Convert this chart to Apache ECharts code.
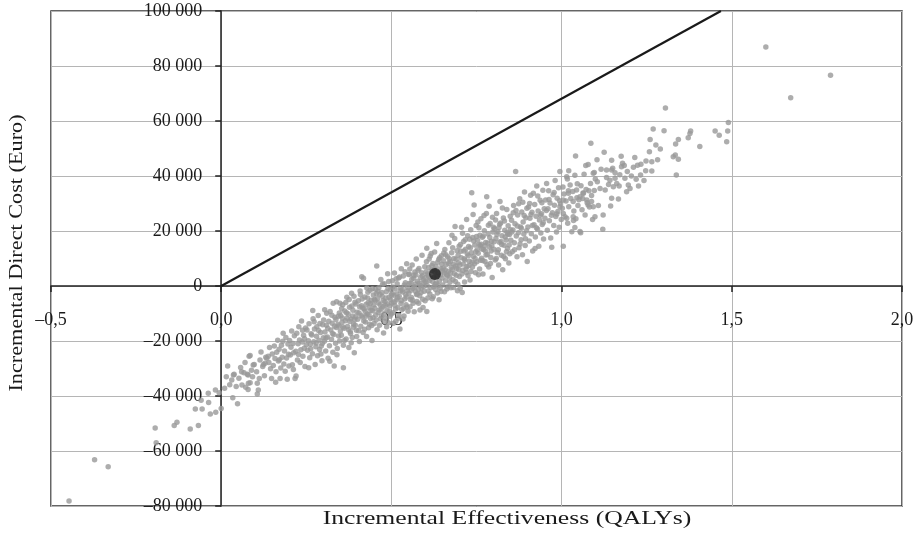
<!DOCTYPE html>
<html><head><meta charset="utf-8">
<script src="https://cdn.jsdelivr.net/npm/echarts@6/dist/echarts.min.js"></script>
<style>html,body{margin:0;padding:0;background:#fff}#c{width:916px;height:543px}</style>
</head><body><div id="c"></div>
<script>
const xTicks = [-0.5, 0, 0.5, 1.0, 1.5, 2.0];
const yTicks = [-80000, -60000, -40000, -20000, 0, 20000, 40000, 60000, 80000, 100000];
const xAxisTitle = 'Incremental Effectiveness (QALYs)';
const yAxisTitle = 'Incremental Direct Cost (Euro)';
const thresholdLine = [[0, 0], [1.468, 100000]];
const meanPoint = [[0.628, 4400]];
const tailPoints = [[-0.447,-78200],[-0.372,-63200],[-0.332,-65700],[-0.194,-51600],[-0.191,-57000],[-0.138,-50700],[-0.130,-49500],[-0.091,-52000],[-0.067,-50700],[-0.076,-44700],[-0.056,-44700],[-0.059,-41500],[-0.037,-42400],[-0.032,-46500],[-0.016,-45900],[0.000,-44500],[-0.038,-39000],[-0.017,-37800],[-0.006,-38800],[0.010,-37200],[0.034,-40600],[0.048,-42800],[0.019,-29100],[0.031,-34200],[0.038,-32100],[0.061,-36000],[0.067,-31500],[0.079,-32400],[0.085,-35200],[0.079,-37600],[0.036,-32400],[0.060,-31200],[0.077,-32100],[0.080,-35400],[0.082,-25500],[0.052,-33500],[0.070,-27800],[0.089,-30600],[0.092,-33000],[0.072,-36800],[0.057,-29600],[0.044,-36500],[0.025,-35900],[0.015,-33000]];
const bandPointsA = [[0.085,-25300],[0.094,-28700],[0.097,-28500],[0.104,-31200],[0.106,-35400],[0.109,-37800],[0.106,-39300],[0.112,-33600],[0.114,-26900],[0.122,-29300],[0.124,-28500],[0.129,-28100],[0.134,-26300],[0.131,-25900],[0.138,-25500],[0.148,-33600],[0.142,-22400],[0.145,-30100],[0.117,-24000],[0.127,-32600],[0.140,-27800],[0.150,-24700],
[0.153,-28900],[0.156,-21800],[0.158,-26400],[0.161,-31200],[0.163,-24100],[0.166,-19700],[0.168,-27300],[0.170,-23000],[0.173,-33600],[0.175,-29800],[0.177,-21500],[0.179,-25900],[0.182,-17200],[0.184,-28400],[0.186,-23600],[0.188,-31000],[0.190,-18700],[0.192,-26200],[0.194,-33900],[0.196,-21100],[0.198,-24800],[0.160,-35000],[0.181,-20100],[0.171,-26800],[0.199,-29100],
[0.201,-19800],[0.203,-25100],[0.205,-22300],[0.207,-16400],[0.209,-28600],[0.211,-20900],[0.213,-24300],[0.215,-18100],[0.217,-33600],[0.219,-23700],[0.220,-32700],[0.222,-17200],[0.224,-26900],[0.226,-21000],[0.228,-14800],[0.230,-19600],[0.232,-27800],[0.234,-23200],[0.236,-12700],[0.238,-20400],[0.240,-25500],[0.242,-17900],[0.244,-22600],[0.246,-29300],[0.248,-15300],[0.250,-21400],[0.212,-30400],[0.227,-24900],[0.239,-16100],[0.245,-19200],
[0.252,-16000],[0.254,-23400],[0.256,-19900],[0.258,-13700],[0.260,-26100],[0.262,-21200],[0.264,-17400],[0.266,-17800],[0.268,-24600],[0.270,-11900],[0.272,-20300],[0.274,-15600],[0.276,-28500],[0.278,-22100],[0.280,-18300],[0.281,-14800],[0.283,-25400],[0.285,-10700],[0.287,-19700],[0.289,-23100],[0.290,-13600],[0.292,-16900],[0.294,-21800],[0.296,-27200],[0.298,-14100],[0.300,-18800],[0.257,-29700],[0.269,-8900],[0.279,-20700],[0.286,-16200],[0.293,-24700],[0.263,-22800],[0.273,-13000],[0.297,-20900],
[0.301,-12400],[0.303,-20100],[0.305,-16700],[0.307,-23600],[0.309,-14300],[0.310,-9900],[0.312,-18500],[0.314,-26300],[0.316,-12800],[0.318,-21700],[0.320,-9300],[0.322,-16000],[0.324,-19400],[0.326,-13500],[0.328,-24100],[0.329,-6300],[0.331,-17600],[0.332,-29100],[0.334,-11400],[0.336,-20800],[0.338,-15100],[0.339,-5700],[0.341,-22700],[0.343,-13900],[0.345,-18200],[0.347,-9800],[0.349,-6300],[0.350,-16400],[0.304,-8600],[0.313,-15400],[0.319,-27400],[0.325,-10600],[0.333,-14600],[0.340,-25000],[0.344,-11000],[0.348,-20000],[0.308,-18900],[0.327,-17300],[0.337,-12200],[0.346,-14500]];
const bandPointsB = [[0.351,-10800],[0.353,-17900],[0.355,-13200],[0.357,-6800],[0.359,-21500],[0.359,-29700],[0.361,-15400],[0.363,-9100],[0.365,-12600],[0.367,-19300],[0.369,-4100],[0.371,-14700],[0.373,-10200],[0.375,-22400],[0.377,-7700],[0.379,-16600],[0.381,-12000],[0.383,-2600],[0.385,-18700],[0.387,-8800],[0.389,-13800],[0.391,-24300],[0.393,-5900],[0.395,-11300],[0.397,-16100],[0.399,-9500],[0.354,-8200],[0.358,-14900],[0.362,-19800],[0.366,-6000],[0.370,-11700],[0.374,-15900],[0.378,-12900],[0.382,-20600],[0.386,-10900],[0.390,-3700],[0.394,-14300],[0.398,-18400],[0.368,-9700],[0.376,-4900],[0.384,-7300],[0.392,-12300],[0.396,-6500],[0.356,-11600],[0.380,-17300],[0.388,-15000],
[0.401,-12100],[0.403,-5400],[0.405,-9800],[0.406,-20200],[0.408,-1800],[0.410,-14600],[0.412,-7200],[0.413,3400],[0.415,-11300],[0.417,-16900],[0.418,2800],[0.420,-8400],[0.422,-4000],[0.424,-13100],[0.426,-6600],[0.427,-18400],[0.429,-10200],[0.431,-2300],[0.433,-15200],[0.435,-7900],[0.437,-1500],[0.439,-11800],[0.441,-5200],[0.443,-19800],[0.445,-9000],[0.447,-3300],[0.449,-13600],[0.404,-16300],[0.407,-7600],[0.411,-10700],[0.414,-4700],[0.419,-12700],[0.423,-9300],[0.428,-700],[0.432,-6100],[0.436,-13900],[0.440,-8800],[0.444,-1000],[0.448,-6900],[0.409,-3100],[0.416,-8000],[0.421,-15700],[0.425,-11000],[0.430,-4400],[0.434,-10400],[0.438,-6400],[0.442,-14400],[0.446,-11500],[0.450,-4900],
[0.451,-8100],[0.453,-1200],[0.455,-12400],[0.457,7300],[0.459,-4600],[0.461,-9600],[0.463,-600],[0.465,-14300],[0.467,-6800],[0.469,2400],[0.471,-10900],[0.473,-3700],[0.475,-7500],[0.477,-17100],[0.479,800],[0.481,-5600],[0.483,-11700],[0.485,-2100],[0.487,-8900],[0.489,4500],[0.491,-13400],[0.493,-4100],[0.495,-7300],[0.497,-1400],[0.499,-10200],[0.452,-5300],[0.456,-2800],[0.458,-15900],[0.462,-6200],[0.466,-3100],[0.470,-8400],[0.474,600],[0.478,-10100],[0.482,-7100],[0.486,-14800],[0.490,-900],[0.494,-9300],[0.498,-5000],[0.454,-10500],[0.460,-1900],[0.464,-8700],[0.468,-11900],[0.472,-2400],[0.476,-5300],[0.480,-12900],[0.484,-4400],[0.488,-6500],[0.492,1600],[0.496,-11000],[0.500,-3300],
[0.501,-6200],[0.503,1900],[0.505,-9700],[0.507,-3400],[0.509,4700],[0.511,-1100],[0.513,-12800],[0.515,-5100],[0.517,800],[0.519,-7900],[0.521,2900],[0.523,-3800],[0.525,-15600],[0.527,-600],[0.529,6300],[0.531,-8600],[0.533,-2200],[0.535,3600],[0.537,-10900],[0.539,-4700],[0.541,1200],[0.543,-6800],[0.545,8100],[0.547,-1700],[0.549,-9200],[0.502,-2700],[0.506,-13500],[0.510,-7000],[0.514,2600],[0.518,-4300],[0.522,-10600],[0.526,-1800],[0.530,-5400],[0.534,-12000],[0.538,400],[0.542,-3100],[0.546,-7600],[0.550,4200],[0.504,-400],[0.508,-5800],[0.512,-8400],[0.516,-2900],[0.520,-11700],[0.524,3300],[0.528,-6400],[0.532,-1400],[0.536,-8100],[0.540,5200],[0.544,-4000],[0.548,-500]];
const bandPointsC = [[0.551,-2600],[0.553,4300],[0.555,-7500],[0.557,1000],[0.559,-4200],[0.561,7600],[0.563,-800],[0.565,2800],[0.567,-9400],[0.569,5100],[0.571,-2000],[0.573,9800],[0.575,-5600],[0.577,1700],[0.579,-1300],[0.581,6400],[0.583,-3500],[0.584,-8700],[0.586,3100],[0.588,-600],[0.590,11200],[0.592,-4800],[0.594,2200],[0.596,-1900],[0.598,7000],[0.552,900],[0.556,-4900],[0.560,2500],[0.564,-6300],[0.568,-300],[0.572,4000],[0.576,-2900],[0.580,-6300],[0.585,200],[0.589,4800],[0.593,-7800],[0.597,1400],[0.554,6200],[0.558,-1500],[0.562,-5200],[0.566,3900],[0.570,700],[0.574,-3100],[0.578,5700],[0.582,1000],[0.587,-2400],[0.591,3700],[0.595,-200],[0.599,-5400],[0.600,3000],
[0.601,1500],[0.603,8800],[0.604,-9300],[0.604,13700],[0.606,4400],[0.608,-1800],[0.610,6700],[0.612,2000],[0.614,10900],[0.616,-600],[0.618,5600],[0.620,-4600],[0.622,8200],[0.623,-3900],[0.625,3100],[0.627,12400],[0.629,600],[0.631,7100],[0.633,15500],[0.635,-2500],[0.637,4800],[0.639,9600],[0.641,1800],[0.643,-800],[0.645,6300],[0.647,11000],[0.649,2900],[0.602,5200],[0.607,-4400],[0.611,9800],[0.615,2800],[0.619,7400],[0.624,-300],[0.628,5000],[0.632,1100],[0.636,8600],[0.640,-5000],[0.644,4000],[0.648,7900],[0.605,200],[0.609,3600],[0.613,-2900],[0.617,11800],[0.621,1600],[0.626,6100],[0.630,-1300],[0.634,3400],[0.638,200],[0.642,10300],[0.646,-2000],[0.650,5500],
[0.651,400],[0.653,9200],[0.655,4700],[0.657,13300],[0.659,1900],[0.661,7800],[0.663,-1100],[0.665,10600],[0.667,5300],[0.669,15700],[0.671,3200],[0.673,8900],[0.675,-600],[0.677,12100],[0.679,6000],[0.681,2300],[0.682,-500],[0.684,10000],[0.686,17300],[0.687,21600],[0.689,7300],[0.691,3900],[0.693,12800],[0.695,600],[0.697,8500],[0.699,14500],[0.652,6500],[0.656,-2100],[0.660,11400],[0.664,3700],[0.668,8300],[0.672,1400],[0.676,6800],[0.680,13900],[0.685,4500],[0.690,9700],[0.694,-1700],[0.698,5900],[0.654,12000],[0.658,5900],[0.662,4200],[0.666,-300],[0.670,9900],[0.674,4800],[0.678,18500],[0.683,7900],[0.688,1600],[0.692,6400],[0.696,11200],[0.700,3500],
[0.701,7600],[0.702,-800],[0.703,15100],[0.705,10300],[0.707,4400],[0.709,19200],[0.711,8000],[0.713,12700],[0.715,1500],[0.717,16800],[0.719,6200],[0.721,24200],[0.723,11600],[0.725,3800],[0.727,14400],[0.729,9000],[0.731,2200],[0.733,20500],[0.735,12100],[0.736,33900],[0.738,6900],[0.739,17600],[0.741,10700],[0.743,29500],[0.745,14900],[0.747,4800],[0.749,22000],[0.704,12600],[0.708,-2400],[0.712,16200],[0.716,9500],[0.720,4900],[0.724,18300],[0.728,7500],[0.732,13900],[0.737,8600],[0.742,16400],[0.746,10000],[0.750,18000],[0.706,21400],[0.710,5700],[0.714,9900],[0.718,13400],[0.722,7100],[0.726,11000],[0.730,17000],[0.734,5300],[0.740,26000],[0.744,8100],[0.748,12500]];
const bandPointsD = [[0.751,8800],[0.753,16600],[0.755,11900],[0.757,21200],[0.759,6200],[0.761,14600],[0.763,24500],[0.765,10100],[0.767,17700],[0.769,4400],[0.771,13300],[0.773,20100],[0.775,8900],[0.777,15800],[0.779,26400],[0.780,32500],[0.782,11500],[0.784,18900],[0.786,6900],[0.788,14200],[0.790,22700],[0.792,10400],[0.794,16300],[0.796,3100],[0.798,19600],[0.752,13200],[0.756,4100],[0.760,18500],[0.764,15200],[0.768,9300],[0.772,25600],[0.776,12700],[0.781,7700],[0.785,22100],[0.789,17600],[0.793,12700],[0.797,25000],[0.754,23300],[0.758,15000],[0.762,9400],[0.766,13500],[0.770,18200],[0.774,14600],[0.778,11300],[0.783,15600],[0.787,29000],[0.791,8200],[0.795,14600],[0.800,21400],
[0.801,13400],[0.803,20800],[0.805,9500],[0.807,17300],[0.809,26400],[0.811,12200],[0.813,19700],[0.815,7600],[0.817,15900],[0.819,30700],[0.821,22900],[0.823,11200],[0.825,18300],[0.827,5900],[0.829,24700],[0.831,14800],[0.833,20300],[0.835,9900],[0.837,16700],[0.839,27800],[0.841,13600],[0.843,21900],[0.845,8400],[0.847,18700],[0.849,25400],[0.802,16100],[0.806,24000],[0.810,18700],[0.814,13200],[0.818,22500],[0.822,16200],[0.826,28400],[0.830,10700],[0.834,17800],[0.838,12500],[0.842,18800],[0.846,14900],[0.850,20500],[0.808,10000],[0.816,21300],[0.824,15100],[0.832,23600],[0.840,19500],[0.848,11700],
[0.851,16600],[0.853,23900],[0.855,12500],[0.857,20400],[0.859,29300],[0.861,15700],[0.863,22600],[0.865,41600],[0.867,18200],[0.869,10600],[0.871,25800],[0.873,19400],[0.875,13900],[0.877,31700],[0.879,21500],[0.881,16800],[0.883,26900],[0.885,11400],[0.887,23300],[0.889,18900],[0.891,34200],[0.893,14700],[0.895,24800],[0.897,20100],[0.899,8900],[0.854,19600],[0.858,26600],[0.862,13200],[0.866,27500],[0.870,21800],[0.874,29900],[0.878,15300],[0.882,21000],[0.886,30500],[0.890,25600],[0.894,17200],[0.898,28300],
[0.901,21500],[0.903,28700],[0.905,16400],[0.907,24600],[0.909,33000],[0.911,19000],[0.913,26800],[0.915,12700],[0.917,33700],[0.919,22300],[0.921,29600],[0.923,17800],[0.925,25400],[0.927,36400],[0.929,20700],[0.931,27300],[0.933,14500],[0.935,24000],[0.937,31200],[0.939,19300],[0.941,26300],[0.943,22400],[0.945,34800],[0.947,17100],[0.949,28100],[0.906,30000],[0.914,22000],[0.922,13600],[0.930,32700],[0.938,25700],[0.946,23000],[0.910,26000],[0.926,21200],[0.942,30300],
[0.951,24600],[0.953,31300],[0.956,37300],[0.958,20300],[0.960,28100],[0.962,34600],[0.964,23700],[0.966,30200],[0.968,17500],[0.971,14100],[0.973,26600],[0.975,33200],[0.977,22000],[0.979,29400],[0.981,38400],[0.983,25300],[0.985,19600],[0.987,31900],[0.989,27100],[0.991,35700],[0.993,21400],[0.995,41600],[0.997,29900],[0.999,24200],[0.955,27500],[0.963,31500],[0.970,25700],[0.978,34000],[0.986,26200],[0.994,31000]];
const bandPointsE = [[1.002,28300],[1.005,14500],[1.007,33500],[1.010,25200],[1.013,30900],[1.015,39700],[1.018,22800],[1.021,28800],[1.025,36700],[1.027,31800],[1.030,19700],[1.033,34400],[1.036,27300],[1.039,40300],[1.042,24500],[1.045,32100],[1.048,29300],[1.004,36000],[1.020,34600],[1.035,23800],[1.046,37200],
[1.017,38900],[1.020,33700],[1.044,34900],[1.054,32500],[1.074,31300],[1.064,33700],[1.034,30700],[1.005,31300],[1.088,30700],[1.093,28800],[1.078,29500],[1.034,25200],[1.015,24600],[1.005,26400],[0.995,28800],[1.098,25200],[1.056,19400],[1.039,21300],
[1.051,31400],[1.054,19800],[1.057,36500],[1.060,27700],[1.063,33800],[1.066,40600],[1.069,25800],[1.072,35100],[1.075,30300],[1.078,44200],[1.082,28700],[1.085,37300],[1.088,32900],[1.091,24200],[1.093,41000],[1.096,34700],[1.099,38900],[1.062,31800],[1.080,34600],
[1.086,51900],[1.041,47300],[1.071,43800],[1.096,41300],[1.021,41900],
[1.104,45900],[1.116,42500],[1.125,48600],[1.132,39500],[1.142,38500],[1.157,39200],[1.162,37300],[1.152,36100],[1.169,36400],[1.186,39200],[1.196,36700],[1.201,35500],[1.191,34300],[1.167,31600],[1.147,31900],[1.144,29100],[1.122,25800],[1.121,20600],[1.108,29300],[1.128,34900],[1.113,35500],[1.105,37900],[1.132,42200],[1.147,42200],[1.147,45700],[1.150,42800],[1.157,41200],[1.179,44600],[1.184,43800],[1.176,43400],[1.211,43200],[1.223,43900],[1.233,44300],[1.248,45500],[1.265,45200],[1.247,41900],[1.265,41800],[1.219,38800],[1.242,38400],[1.232,40400],[1.171,40500],[1.205,40000],[1.138,36900],[1.193,41600],[1.215,46700],[1.258,48800],[1.282,45900],[1.290,49800],[1.226,36400],[1.175,47200],
[1.260,53300],[1.277,51300],[1.269,57100],[1.301,56500],[1.305,64700],[1.337,40400],[1.328,47000],[1.343,46100],[1.334,47600],[1.335,51600],[1.343,53300],[1.372,53900],[1.377,55500],[1.379,56400],[1.406,50700],[1.451,56400],[1.463,54800],[1.485,52500],[1.488,56400],[1.490,59500],[1.600,86900],[1.673,68500],[1.790,76600]];
const bootstrapPoints = [].concat(tailPoints, bandPointsA, bandPointsB, bandPointsC, bandPointsD, bandPointsE);

const FONT = '"Liberation Serif", "DejaVu Serif", serif';
const TXT = '#1a1a1a';
const fmtX = v => v.toFixed(1).replace('.', ',').replace('-', '\u2013');
const fmtY = v => v === 0 ? '0' : (v < 0 ? '\u2013' : '') + String(Math.abs(v)).replace(/\B(?=(\d{3})+(?!\d))/g, ' ');

const W = 916, H = 543;
const G = {left: 51, right: 14, top: 11, bottom: 37};
const gridW = W - G.left - G.right, gridH = H - G.top - G.bottom;
const xMin = xTicks[0], xMax = xTicks[xTicks.length - 1];
const yMin = yTicks[0], yMax = yTicks[yTicks.length - 1];
// place the axes where the other axis is zero
const xAxisOffset = -gridH * (0 - yMin) / (yMax - yMin);
const yAxisOffset = -gridW * (0 - xMin) / (xMax - xMin);

const chart = echarts.init(document.getElementById('c'), null, {renderer: 'canvas'});
chart.setOption({
  animation: false,
  backgroundColor: '#fff',
  grid: Object.assign({show: true, borderColor: '#333', borderWidth: 1.5, backgroundColor: 'transparent', containLabel: false, outerBoundsMode: 'none'}, G),
  xAxis: {
    type: 'value', min: xMin, max: xMax, interval: 0.5, position: 'bottom', offset: xAxisOffset,
    axisLine: {onZero: false, lineStyle: {color: '#222', width: 1.5}},
    axisTick: {show: true, length: 6, lineStyle: {color: '#222', width: 1.5}},
    axisLabel: {margin: 25, color: TXT, fontFamily: FONT, fontSize: 18, formatter: fmtX, showMinLabel: true, showMaxLabel: true, hideOverlap: false},
    splitLine: {show: true, lineStyle: {color: '#b5b5b5', width: 1}}
  },
  yAxis: {
    type: 'value', min: yMin, max: yMax, interval: 20000, position: 'left', offset: yAxisOffset,
    axisLine: {onZero: false, lineStyle: {color: '#222', width: 1.5}},
    axisTick: {show: true, length: 6, lineStyle: {color: '#222', width: 1.5}},
    axisLabel: {margin: 19, color: TXT, fontFamily: FONT, fontSize: 18, formatter: fmtY, padding: [6, 0, 0, 0], showMinLabel: true, showMaxLabel: true, hideOverlap: false},
    splitLine: {show: true, lineStyle: {color: '#b5b5b5', width: 1}}
  },
  graphic: [
    {type: 'text', x: 507, y: 519, scaleX: 1.35, style: {text: xAxisTitle, font: '19px ' + FONT, fill: TXT, align: 'center', verticalAlign: 'middle'}},
    {type: 'text', x: 17, y: 253, rotation: Math.PI / 2, scaleX: 1.17, style: {text: yAxisTitle, font: '19px ' + FONT, fill: TXT, align: 'center', verticalAlign: 'middle'}}
  ],
  series: [
    {type: 'scatter', data: bootstrapPoints, symbolSize: 5.5, itemStyle: {color: '#999999'}, silent: true, z: 2},
    {type: 'line', data: thresholdLine, showSymbol: false, symbol: 'none', lineStyle: {color: '#1a1a1a', width: 2.2}, z: 3, silent: true},
    {type: 'scatter', data: meanPoint, symbolSize: 12, itemStyle: {color: '#1a1a1a'}, z: 4, silent: true}
  ]
});
</script>
</body></html>
